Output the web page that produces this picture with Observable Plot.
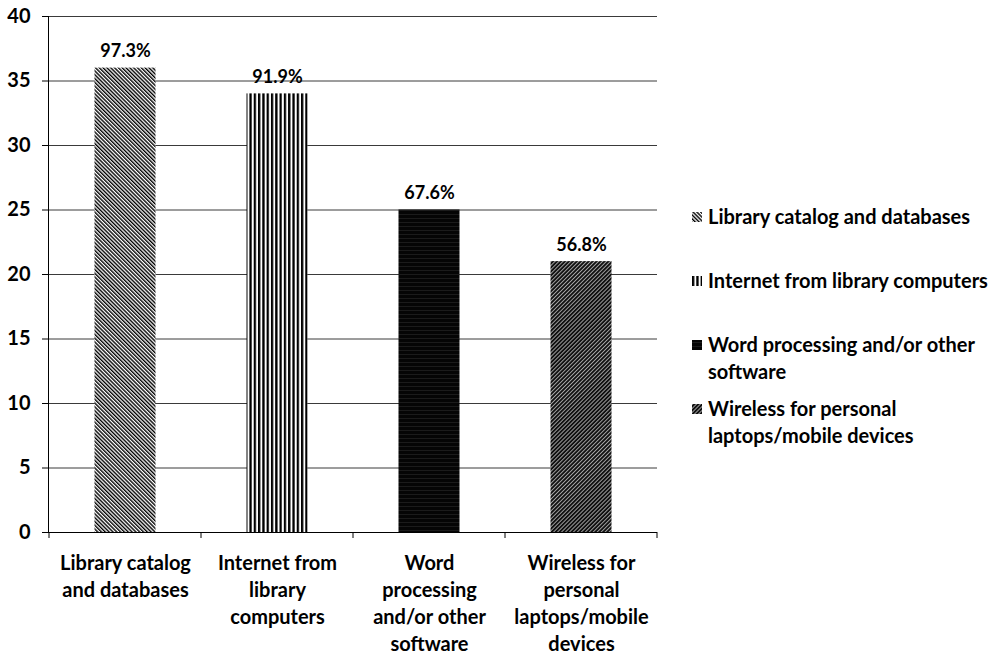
<!DOCTYPE html>
<html>
<head>
<meta charset="utf-8">
<script src="https://cdn.jsdelivr.net/npm/d3@7"></script>
<script src="https://cdn.jsdelivr.net/npm/@observablehq/plot@0.6"></script>
<style>
  body { margin: 0; background: #fff; }
  #wrap { position: relative; width: 1008px; height: 654px; font-family: Lato, "Open Sans", sans-serif; }
  #chart { position: absolute; left: 0; top: 0; }
  #legend { position: absolute; left: 692px; top: 203px; font-family: Lato, sans-serif; font-weight: 700; font-size: 20px; color: #000; }
  .item { display: flex; align-items: flex-start; height: 64px; }
  .item svg { flex: none; margin-top: 9px; margin-right: 6px; }
  .item span { white-space: pre-line; line-height: 27px; }
</style>
</head>
<body>
<svg width="0" height="0" style="position:absolute">
  <defs>
    <pattern id="p1" width="2.7" height="2.7" patternUnits="userSpaceOnUse" patternTransform="rotate(-45)">
      <rect width="2.7" height="2.7" fill="#fff"/><rect width="1.4" height="2.7" fill="#000"/>
    </pattern>
    <pattern id="p2" width="4.3" height="4" patternUnits="userSpaceOnUse">
      <rect width="4.3" height="4" fill="#fff"/><rect width="2.3" height="4" fill="#000"/>
    </pattern>
    <pattern id="p3" width="4" height="4" patternUnits="userSpaceOnUse">
      <rect width="4" height="4" fill="#050505"/><rect y="2" width="4" height="0.7" fill="#242424"/>
    </pattern>
    <pattern id="p4" width="2.8" height="2.8" patternUnits="userSpaceOnUse" patternTransform="rotate(45)">
      <rect width="2.8" height="2.8" fill="#111"/><rect width="0.9" height="2.8" fill="#aaa"/>
    </pattern>
  </defs>
</svg>
<div id="wrap">
  <div id="chart"></div>
  <div id="legend"></div>
</div>
<script>
const categories = [
  "Library catalog and databases",
  "Internet from library computers",
  "Word processing and/or other software",
  "Wireless for personal laptops/mobile devices"
];
const values = [36, 34, 25, 21];
const percentLabels = ["97.3%", "91.9%", "67.6%", "56.8%"];
const tickLabels = [
  "Library catalog\nand databases",
  "Internet from\nlibrary\ncomputers",
  "Word\nprocessing\nand/or other\nsoftware",
  "Wireless for\npersonal\nlaptops/mobile\ndevices"
];
const legendLabels = [
  "Library catalog and databases",
  "Internet from library computers",
  "Word processing and/or other\nsoftware",
  "Wireless for personal\nlaptops/mobile devices"
];
const yTicks = [0, 5, 10, 15, 20, 25, 30, 35, 40];

const fills = ["url(#p1)", "url(#p2)", "url(#p3)", "url(#p4)"];
const data = categories.map((c, i) => ({cat: c, value: values[i], pct: percentLabels[i], fill: fills[i]}));
const labelOf = new Map(categories.map((c, i) => [c, tickLabels[i]]));

function bandTicks(index, scales, vals, dims) {
  const x = scales.x;
  const step = x(categories[1]) - x(categories[0]);
  const edges = categories.map(c => x(c)).concat([x(categories[categories.length - 1]) + step]);
  const y0 = dims.height - dims.marginBottom;
  const g = d3.create("svg:g");
  g.selectAll("line").data(edges).join("line")
    .attr("x1", d => d).attr("x2", d => d)
    .attr("y1", y0).attr("y2", y0 + 6)
    .attr("stroke", "#000");
  return g.node();
}

const chart = Plot.plot({
  width: 670,
  height: 654,
  marginLeft: 48,
  marginRight: 13,
  marginTop: 16,
  marginBottom: 122,
  style: {fontFamily: "Lato, sans-serif", color: "#000", background: "transparent"},
  x: {domain: categories, padding: 0},
  y: {domain: [0, 40]},
  color: {type: "identity"},
  marks: [
    Plot.gridY(yTicks, {stroke: "#3a3a3a", strokeOpacity: 1, strokeWidth: 1}),
    Plot.barY(data, {x: "cat", y: "value", fill: "fill", insetLeft: 45.5, insetRight: 45.5}),
    Plot.text(data, {x: "cat", y: "value", text: "pct", dy: -11, lineAnchor: "bottom", fontSize: 18, fontWeight: "bold", fill: "#000"}),
    Plot.axisY({ticks: yTicks, tickSize: 6, tickPadding: 12, fontSize: 20, fontWeight: "bold", label: null, stroke: "#000"}),
    Plot.axisX({tickSize: 0, tickPadding: 18, fontSize: 20, fontWeight: "bold", lineHeight: 1.35, label: null, tickFormat: d => labelOf.get(d)}),
    Plot.ruleY([0], {stroke: "#000"}),
    Plot.frame({anchor: "left", stroke: "#000"}),
    bandTicks
  ]
});
document.getElementById("chart").appendChild(chart);

const legend = d3.select("#legend");
legendLabels.forEach((lab, i) => {
  const item = legend.append("div").attr("class", "item");
  const sw = item.append("svg").attr("width", 10).attr("height", 10);
  sw.append("rect").attr("width", 10).attr("height", 10).attr("fill", fills[i]);
  item.append("span").text(lab);
});
</script>
</body>
</html>
